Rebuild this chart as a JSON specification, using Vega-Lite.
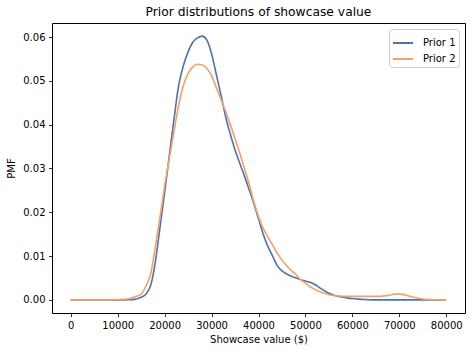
{
  "$schema": "https://vega.github.io/schema/vega-lite/v6.json",
  "autosize": "none",
  "width": 413,
  "height": 290,
  "padding": {"left": 52, "top": 23, "right": 7, "bottom": 39},
  "title": {"text": "Prior distributions of showcase value", "fontSize": 12.3, "font": "DejaVu Sans", "fontWeight": "normal", "color": "#000000", "offset": 5},
  "data": {"values": [
    {"x": 0, "p1": 0, "p2": 0},
    {"x": 2000, "p1": 0, "p2": 0},
    {"x": 4000, "p1": 0, "p2": 0},
    {"x": 6000, "p1": 0, "p2": 0},
    {"x": 8000, "p1": 0, "p2": 0},
    {"x": 9000, "p1": 0, "p2": 0.00001},
    {"x": 10000, "p1": 0, "p2": 0.00003},
    {"x": 11000, "p1": 0, "p2": 0.0001},
    {"x": 12000, "p1": 0.00001, "p2": 0.0002},
    {"x": 13000, "p1": 0.00005, "p2": 0.0004},
    {"x": 14000, "p1": 0.0002, "p2": 0.0008},
    {"x": 15000, "p1": 0.0006, "p2": 0.0013},
    {"x": 16000, "p1": 0.0013, "p2": 0.0031},
    {"x": 17000, "p1": 0.0032, "p2": 0.0058},
    {"x": 18000, "p1": 0.0085, "p2": 0.012},
    {"x": 19000, "p1": 0.0165, "p2": 0.0188},
    {"x": 20000, "p1": 0.0245, "p2": 0.026},
    {"x": 21000, "p1": 0.033, "p2": 0.0323},
    {"x": 22000, "p1": 0.0413, "p2": 0.0385},
    {"x": 23000, "p1": 0.049, "p2": 0.0445},
    {"x": 24000, "p1": 0.0535, "p2": 0.049},
    {"x": 25000, "p1": 0.0566, "p2": 0.0517},
    {"x": 26000, "p1": 0.0588, "p2": 0.0532},
    {"x": 27000, "p1": 0.0598, "p2": 0.0538},
    {"x": 28000, "p1": 0.0602, "p2": 0.0536},
    {"x": 29000, "p1": 0.0593, "p2": 0.0528},
    {"x": 30000, "p1": 0.0562, "p2": 0.0512},
    {"x": 31000, "p1": 0.0515, "p2": 0.0485},
    {"x": 32000, "p1": 0.0468, "p2": 0.0458},
    {"x": 33000, "p1": 0.0418, "p2": 0.043},
    {"x": 34000, "p1": 0.0378, "p2": 0.04},
    {"x": 35000, "p1": 0.0342, "p2": 0.0368},
    {"x": 36000, "p1": 0.0312, "p2": 0.0335},
    {"x": 37000, "p1": 0.0283, "p2": 0.03},
    {"x": 38000, "p1": 0.0252, "p2": 0.0265},
    {"x": 39000, "p1": 0.022, "p2": 0.0224},
    {"x": 40000, "p1": 0.0185, "p2": 0.019},
    {"x": 41000, "p1": 0.015, "p2": 0.0163},
    {"x": 42000, "p1": 0.0122, "p2": 0.0143},
    {"x": 43000, "p1": 0.01, "p2": 0.0125},
    {"x": 44000, "p1": 0.0078, "p2": 0.0106},
    {"x": 45000, "p1": 0.0066, "p2": 0.0091},
    {"x": 46000, "p1": 0.0059, "p2": 0.0078},
    {"x": 47000, "p1": 0.0054, "p2": 0.0067},
    {"x": 48000, "p1": 0.005, "p2": 0.0057},
    {"x": 49000, "p1": 0.0046, "p2": 0.0046},
    {"x": 50000, "p1": 0.0043, "p2": 0.0038},
    {"x": 51000, "p1": 0.004, "p2": 0.003},
    {"x": 52000, "p1": 0.0035, "p2": 0.0024},
    {"x": 53000, "p1": 0.0028, "p2": 0.0019},
    {"x": 54000, "p1": 0.0021, "p2": 0.0015},
    {"x": 55000, "p1": 0.0015, "p2": 0.0012},
    {"x": 56000, "p1": 0.0011, "p2": 0.001},
    {"x": 57000, "p1": 0.0008, "p2": 0.0009},
    {"x": 58000, "p1": 0.0006, "p2": 0.0008},
    {"x": 59000, "p1": 0.0004, "p2": 0.0008},
    {"x": 60000, "p1": 0.0003, "p2": 0.0008},
    {"x": 61000, "p1": 0.0002, "p2": 0.0008},
    {"x": 62000, "p1": 0.0001, "p2": 0.0008},
    {"x": 63000, "p1": 0.00005, "p2": 0.0008},
    {"x": 64000, "p1": 0, "p2": 0.0008},
    {"x": 65000, "p1": 0, "p2": 0.0008},
    {"x": 66000, "p1": 0, "p2": 0.0008},
    {"x": 67000, "p1": 0, "p2": 0.0009},
    {"x": 68000, "p1": 0, "p2": 0.0011},
    {"x": 69000, "p1": 0, "p2": 0.0013},
    {"x": 70000, "p1": 0, "p2": 0.0013},
    {"x": 71000, "p1": 0, "p2": 0.0012},
    {"x": 72000, "p1": 0, "p2": 0.0009},
    {"x": 73000, "p1": 0, "p2": 0.0006},
    {"x": 74000, "p1": 0, "p2": 0.0004},
    {"x": 75000, "p1": 0, "p2": 0.0002},
    {"x": 76000, "p1": 0, "p2": 0.0001},
    {"x": 77000, "p1": 0, "p2": 0.00005},
    {"x": 78000, "p1": 0, "p2": 0},
    {"x": 80000, "p1": 0, "p2": 0}
  ]},
  "transform": [
    {"fold": ["p1", "p2"], "as": ["series", "pmf"]},
    {"lookup": "series", "from": {"data": {"values": [{"series": "p1", "name": "Prior 1"}, {"series": "p2", "name": "Prior 2"}]}, "key": "series", "fields": ["name"]}}
  ],
  "mark": {"type": "line", "strokeWidth": 1.6, "interpolate": "monotone"},
  "encoding": {
    "x": {
      "field": "x", "type": "quantitative",
      "scale": {"domain": [-4000, 84000], "nice": false, "zero": false},
      "axis": {"title": "Showcase value ($)", "values": [0, 10000, 20000, 30000, 40000, 50000, 60000, 70000, 80000], "format": "d", "titlePadding": 4}
    },
    "y": {
      "field": "pmf", "type": "quantitative",
      "scale": {"domain": [-0.003, 0.0632], "nice": false, "zero": false},
      "axis": {"title": "PMF", "values": [0, 0.01, 0.02, 0.03, 0.04, 0.05, 0.06], "format": ".2f", "titlePadding": 6}
    },
    "color": {
      "field": "name", "type": "nominal",
      "scale": {"domain": ["Prior 1", "Prior 2"], "range": ["#4c72b0", "#f5a064"]},
      "legend": {
        "title": null, "orient": "none", "legendX": 337, "legendY": 6,
        "symbolType": "stroke", "symbolSize": 400, "symbolStrokeWidth": 2,
        "labelFont": "DejaVu Sans", "labelFontSize": 10, "labelColor": "#000000", "labelOffset": 9,
        "fillColor": "white", "strokeColor": "#cccccc", "padding": 3, "cornerRadius": 3, "rowPadding": 0
      }
    }
  },
  "config": {
    "view": {"stroke": "#000000", "strokeWidth": 1},
    "axis": {
      "grid": false, "domain": false, "ticks": true, "tickColor": "#000000", "tickSize": 3.5, "tickWidth": 0.8,
      "labelFont": "DejaVu Sans", "labelFontSize": 10, "labelColor": "#000000", "labelPadding": 3.5,
      "titleFont": "DejaVu Sans", "titleFontSize": 10, "titleFontWeight": "normal", "titleColor": "#000000"
    }
  }
}
